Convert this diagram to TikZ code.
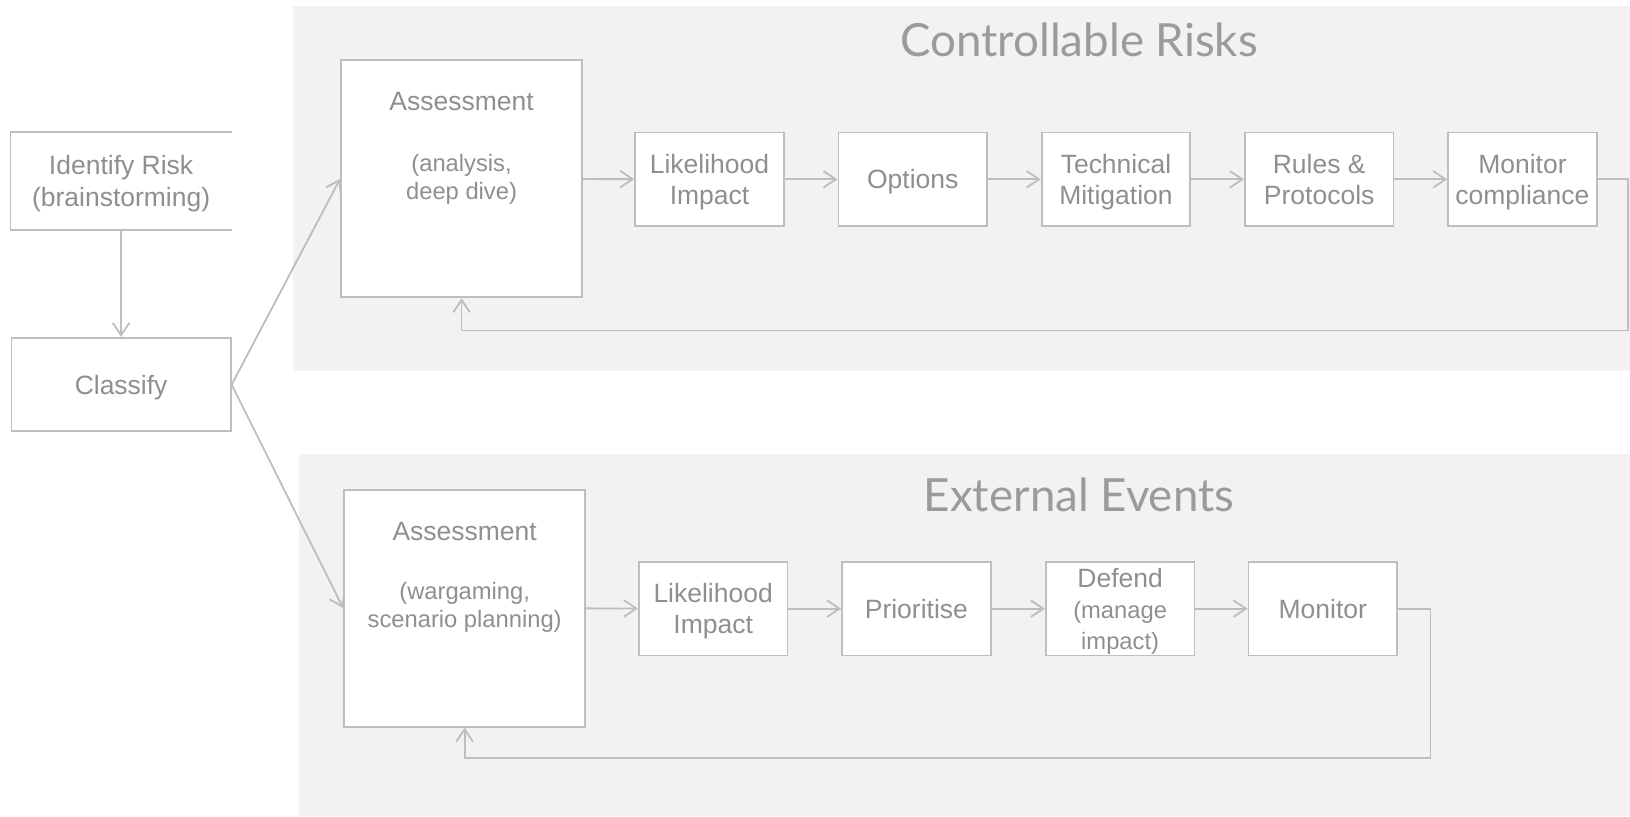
\documentclass[tikz,border=0pt]{standalone}
\usepackage{fontspec}
\setmainfont{Liberation Sans}
\newfontfamily\titlefont{Lato}
\usetikzlibrary{arrows.meta}

\definecolor{boxline}{RGB}{190,190,190}
\definecolor{boxtext}{RGB}{143,143,143}
\definecolor{panelfill}{RGB}{242,242,242}
\definecolor{titletext}{RGB}{155,155,155}
\newcommand{\subtxt}{\fontsize{13}{15.4}\selectfont}

\tikzset{
  stepbox/.style={draw=boxline,fill=white,line width=1pt,minimum width=2.86cm,minimum height=1.8cm,
    align=center,text=boxtext,font=\fontsize{14.5}{17}\selectfont,inner sep=0,text depth=0pt},
  bigbox/.style={stepbox,minimum width=4.64cm,minimum height=4.56cm},
  boxlabel/.style={align=center,text=boxtext,font=\fontsize{14.5}{17}\selectfont,inner sep=0,text depth=0pt},
  flow/.style={draw=boxline,line width=1pt,-{Straight Barb[length=2.4mm,width=3.2mm]}},
  paneltitle/.style={text=titletext,font=\titlefont\fontsize{25}{30}\selectfont,inner sep=0},
}

\begin{document}
\begin{tikzpicture}[x=0.02cm,y=-0.02cm]

  \useasboundingbox (0,0) rectangle (1568,785);

  % panels
  \fill[panelfill] (282,6) rectangle (1568,357);
  \fill[panelfill] (288,437) rectangle (1568,785);
  \node (ctitle) at (1038,38) [paneltitle]{Controllable Risks};
  \node (etitle) at (1038,476) [paneltitle]{External Events};

  % left column
  \node (ident) at (116.5,174) [stepbox,draw=none,minimum width=4.22cm,minimum height=1.84cm]{Identify Risk\\(brainstorming)};
  \draw[boxline,line width=1pt] (ident.north east) -- (ident.north west) -- (ident.south west) -- (ident.south east);
  \node (classify) at (116.5,370) [stepbox,minimum width=4.22cm]{Classify};

  % controllable risks
  \node (cassess) at (444,172) [bigbox]{};
  \node (cassesslbl) at (444,98) [boxlabel]{Assessment};
  \node (cassesssub) at (444,170.5) [boxlabel,font=\subtxt]{(analysis,\\deep dive)};
  \node (clikely) at (682.5,172.5) [stepbox]{Likelihood\\Impact};
  \node (coptions) at (878,172.5) [stepbox]{Options};
  \node (ctech) at (1073.5,172.5) [stepbox]{Technical\\Mitigation};
  \node (crules) at (1269,172.5) [stepbox]{Rules \&\\Protocols};
  \node (cmonitor) at (1464.5,172.5) [stepbox]{Monitor\\compliance};
  \coordinate (cback) at (1566,318);

  % external events
  \node (eassess) at (447,585) [bigbox]{};
  \node (eassesslbl) at (447,511) [boxlabel]{Assessment};
  \node (eassesssub) at (447,582) [boxlabel,font=\subtxt]{(wargaming,\\scenario planning)};
  \node (elikely) at (686,585.5) [stepbox]{Likelihood\\Impact};
  \node (eprior) at (881.5,585.5) [stepbox]{Prioritise};
  \node (edefend) at (1077.5,585.5) [stepbox]{Defend\\{\subtxt(manage}\\{\subtxt impact)}};
  \node (emonitor) at (1272.5,585.5) [stepbox]{Monitor};
  \coordinate (eback) at (1376,729);

  \draw[flow] (ident) -- (classify);
  \draw[flow] (classify.east) -- (cassess.west);
  \draw[flow] (classify.east) -- (eassess.west);

  \foreach \a/\b in {cassess/clikely,clikely/coptions,coptions/ctech,ctech/crules,crules/cmonitor,
                     eassess/elikely,elikely/eprior,eprior/edefend,edefend/emonitor}
    \draw[flow] (\a) -- (\b);

  \draw[flow] (cmonitor.east) -| (cback) -| (cassess.south);
  \draw[flow] (emonitor.east) -| (eback) -| (eassess.south);

\end{tikzpicture}
\end{document}
